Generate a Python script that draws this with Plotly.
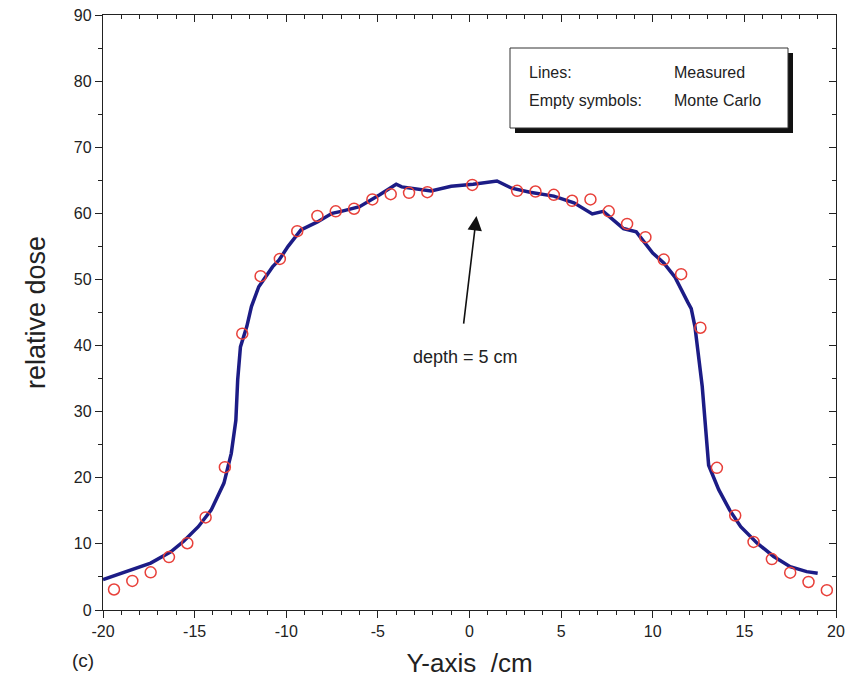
import plotly.graph_objects as go

# Measured profile (line)
line_x = [-20.0, -19.2, -18.1, -17.4, -16.3, -15.6, -14.8, -14.1, -13.4, -13.0, -12.75, -12.65,
          -12.5, -12.15, -11.9, -11.5, -10.75, -10.4, -9.9, -9.2, -8.3, -7.5, -7.0, -6.0, -4.9,
          -4.0, -3.7, -2.1, -1.0, 0.2, 1.5, 2.3, 3.3, 4.6, 5.7, 6.7, 7.3, 8.05, 8.4, 9.1, 10.0,
          10.6, 11.2, 11.9, 12.1, 12.3, 12.7, 13.05, 13.6, 14.2, 14.8, 15.7, 16.6, 17.5, 18.4, 19.0]
line_y = [4.6, 5.4, 6.4, 7.1, 8.8, 10.4, 12.6, 15.1, 19.2, 23.7, 28.7, 34.8,
          39.8, 42.9, 45.9, 48.9, 51.9, 52.9, 55.0, 57.5, 58.7, 60.0, 60.3, 61.0, 62.8,
          64.4, 64.0, 63.4, 64.1, 64.4, 64.9, 63.8, 63.2, 62.6, 61.6, 59.9, 60.3, 58.5, 57.7, 57.2, 54.0,
          52.5, 50.4, 46.6, 45.6, 42.9, 33.8, 21.9, 18.2, 15.1, 12.6, 10.1, 8.1, 6.55, 5.8, 5.55]

# Monte Carlo (empty symbols)
mc_x = [-19.4, -18.4, -17.4, -16.4, -15.4, -14.4, -13.35, -12.4, -11.4, -10.35, -9.4, -8.3, -7.3,
        -6.3, -5.3, -4.3, -3.3, -2.3, 0.15, 2.6, 3.6, 4.6, 5.6, 6.6, 7.6, 8.6, 9.6, 10.6, 11.55,
        12.6, 13.5, 14.5, 15.5, 16.5, 17.5, 18.5, 19.5]
mc_y = [3.1, 4.4, 5.7, 8.0, 10.1, 14.0, 21.6, 41.8, 50.5, 53.1, 57.3, 59.6, 60.3,
        60.7, 62.1, 62.9, 63.1, 63.2, 64.3, 63.4, 63.3, 62.8, 61.9, 62.1, 60.3, 58.4, 56.4, 53.0, 50.8,
        42.7, 21.5, 14.3, 10.3, 7.7, 5.65, 4.24, 3.0]

x_ticks = [-20, -15, -10, -5, 0, 5, 10, 15, 20]
x_ticklabels = ["-20", "-15", "-10", "-5", "0", "5", "10", "15", "20"]
y_ticks = [0, 10, 20, 30, 40, 50, 60, 70, 80, 90]
y_ticklabels = ["0", "10", "20", "30", "40", "50", "60", "70", "80", "90"]

x_range = [-20, 20]
y_range = [0, 90]

tick_font = dict(family="Liberation Sans, Arial", size=16, color="#222")

fig = go.Figure()
fig.add_trace(go.Scatter(x=line_x, y=line_y, mode="lines",
                         line=dict(color="#1c1c86", width=3.5), showlegend=False))
fig.add_trace(go.Scatter(x=mc_x, y=mc_y, mode="markers",
                         marker=dict(symbol="circle-open", size=11, color="#e8403a",
                                     line=dict(width=1.5)), showlegend=False))
# invisible trace to carry mirrored axes with inward ticks
fig.add_trace(go.Scatter(x=[0], y=[0], mode="markers", opacity=0, xaxis="x2", yaxis="y2",
                         showlegend=False, hoverinfo="skip"))

axis_common = dict(showline=True, linecolor="#222", linewidth=1.3, showgrid=False,
                   zeroline=False, tickcolor="#222", tickwidth=1.2, automargin=False)

W, H = 859, 695
L, R, T, B = 103, 23, 15, 85
PW, PH = W - L - R, H - T - B


def px_x(px):
    return (px - L) / PW


def px_y(py):
    return (H - B - py) / PH


fig.update_layout(
    width=W, height=H,
    margin=dict(l=L, r=R, t=T, b=B),
    paper_bgcolor="white", plot_bgcolor="white",
    xaxis=dict(range=x_range, tickmode="array", tickvals=x_ticks, ticktext=x_ticklabels,
               ticks="outside", ticklen=7,
               minor=dict(dtick=1, tick0=-20, ticks="outside", ticklen=4, tickcolor="#222"),
               tickfont=tick_font,
               title=dict(text="Y-axis  /cm", font=dict(family="Liberation Sans, Arial", size=26, color="#222"),
                          standoff=14),
               **axis_common),
    yaxis=dict(range=y_range, tickmode="array", tickvals=y_ticks, ticktext=y_ticklabels,
               ticks="outside", ticklen=7,
               minor=dict(dtick=5, tick0=0, ticks="outside", ticklen=4, tickcolor="#222"),
               tickfont=tick_font,
               title=dict(text="relative dose", font=dict(family="Liberation Sans, Arial", size=27, color="#222"),
                          standoff=20),
               **axis_common),
    xaxis2=dict(range=x_range, overlaying="x", side="top", anchor="y2", tickmode="array",
                tickvals=x_ticks, ticks="inside", ticklen=7, showticklabels=False,
                minor=dict(dtick=1, tick0=-20, ticks="inside", ticklen=4, tickcolor="#222"),
                **axis_common),
    yaxis2=dict(range=y_range, overlaying="y", side="right", anchor="x2", tickmode="array",
                tickvals=y_ticks, ticks="inside", ticklen=7, showticklabels=False,
                minor=dict(dtick=5, tick0=0, ticks="inside", ticklen=4, tickcolor="#222"),
                **axis_common),
)

# legend-like box with shadow
fig.add_shape(type="rect", xref="paper", yref="paper",
              x0=px_x(515), x1=px_x(793), y0=px_y(133), y1=px_y(53),
              fillcolor="#111", line=dict(width=0), layer="above")
fig.add_shape(type="rect", xref="paper", yref="paper",
              x0=px_x(510), x1=px_x(788), y0=px_y(128), y1=px_y(48),
              fillcolor="white", line=dict(color="#333", width=1), layer="above")

box_font = dict(family="Liberation Sans, Arial", size=16, color="#222")
for txt, px, py in [("Lines:", 527, 72), ("Measured", 672, 72),
                    ("Empty symbols:", 527, 100), ("Monte Carlo", 672, 100)]:
    fig.add_annotation(text=txt, xref="paper", yref="paper", x=px_x(px), y=px_y(py),
                       xanchor="left", yanchor="middle", showarrow=False, font=box_font)

# arrow and label
fig.add_annotation(x=0.38, y=59.6, ax=-0.33, ay=43.1, xref="x", yref="y", axref="x", ayref="y",
                   text="", showarrow=True, arrowhead=2, arrowsize=1.8, arrowwidth=1.6,
                   arrowcolor="#111")
fig.add_annotation(x=-0.2, y=38.3, xref="x", yref="y", text="depth = 5 cm", showarrow=False,
                   font=dict(family="Liberation Sans, Arial", size=18, color="#222"))

fig.add_annotation(text="(c)", xref="paper", yref="paper", x=px_x(83), y=px_y(660),
                   xanchor="center", yanchor="middle", showarrow=False,
                   font=dict(family="Liberation Sans, Arial", size=19, color="#222"))

fig.write_html("out.html", config={"displayModeBar": False},
               post_script="document.body.style.margin='0';document.body.style.overflow='hidden';")
